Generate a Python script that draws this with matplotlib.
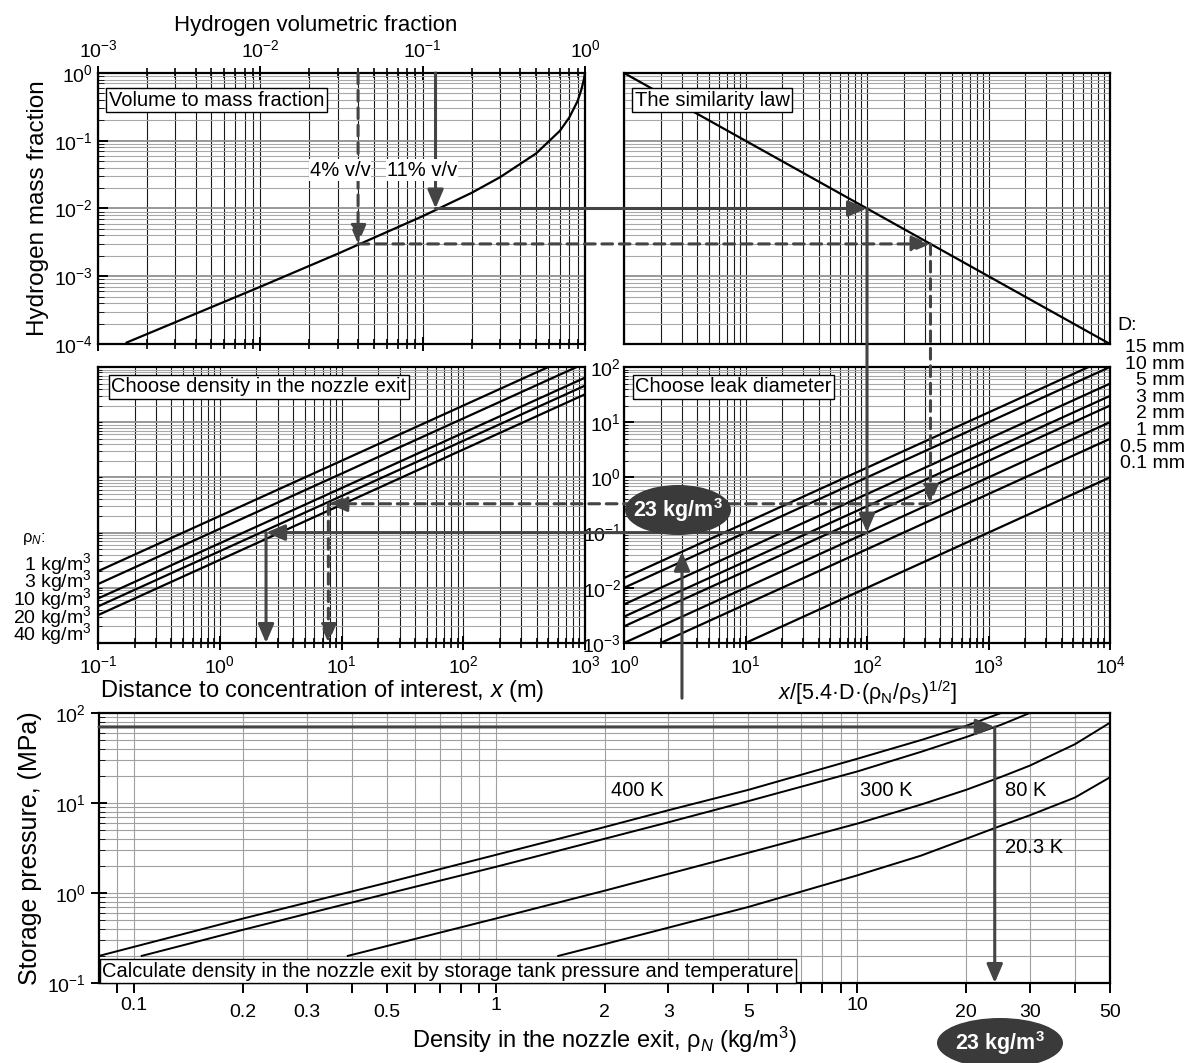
import matplotlib
matplotlib.use("Agg")
import matplotlib.pyplot as plt
import numpy as np
from matplotlib.patches import ConnectionPatch, Ellipse
from matplotlib.ticker import LogLocator, FixedLocator, FixedFormatter, NullFormatter

plt.rcParams['font.family'] = ['Liberation Sans', 'DejaVu Sans']
plt.rcParams['mathtext.fontset'] = 'custom'
plt.rcParams['mathtext.rm'] = 'Liberation Sans'
plt.rcParams['mathtext.it'] = 'Liberation Sans:italic'
plt.rcParams['mathtext.bf'] = 'Liberation Sans:bold'
plt.rcParams['font.size'] = 14

# --- volume -> mass fraction (top left)
vol_frac = [0.0015, 0.003, 0.01, 0.03, 0.1, 0.2, 0.3, 0.5, 0.7, 0.8, 0.9, 0.95, 0.98, 0.995, 1.0]
mass_frac = [1.05e-4, 2.1e-4, 7.0e-4, 2.15e-3, 7.7e-3, 0.017, 0.029, 0.065, 0.14, 0.22, 0.385, 0.57, 0.77, 0.93, 1.0]

# --- similarity law (top right)
sim_x = [1, 1e4]
sim_c = [1, 1e-4]

# --- leak diameters (middle right), value at x'=1 and x'=1e4
leak_labels = ['15 mm', '10 mm', '5 mm', '3 mm', '2 mm', '1 mm', '0.5 mm', '0.1 mm']
leak_y_start = [0.015, 0.01, 0.005, 0.003, 0.002, 0.001, 0.0005, 0.0001]
leak_y_end = [150, 100, 50, 30, 20, 10, 5, 1]

# --- nozzle density lines (middle left), value at x=0.1 m and x=1000 m
dens_labels = ['1 kg/m$^3$', '3 kg/m$^3$', '10 kg/m$^3$', '20 kg/m$^3$', '40 kg/m$^3$']
dens_y_start = [0.0200, 0.0117, 0.0064, 0.0046, 0.0032]
dens_y_end = [200, 117, 64, 46, 32]

# --- worked examples (solid: 11 % v/v, dashed: 4 % v/v)
route_solid = dict(vol=0.12, mass=0.01, xs=100, inter=0.1, dist=2.4)
route_dashed = dict(vol=0.04, mass=0.003, xs=333, inter=0.333, dist=7.8)

# --- isotherms (bottom)
rho_400 = [0.08, 0.2, 0.5, 1, 2, 3, 5, 10, 15, 20, 25]
p_400 = [0.20, 0.52, 1.3, 2.65, 5.4, 8.3, 14, 31, 50, 72, 100]
rho_300 = [0.105, 0.2, 0.5, 1, 2, 3, 5, 10, 15, 20, 25, 30]
p_300 = [0.20, 0.39, 0.98, 1.95, 4.0, 6.1, 10.5, 22.4, 37, 54, 74, 100]
rho_80 = [0.39, 1, 2, 5, 10, 15, 20, 25, 30, 40, 50]
p_80 = [0.2, 0.52, 1.06, 2.8, 5.9, 9.6, 14.0, 19.5, 26, 45, 78]
rho_20 = [1.49, 2, 5, 10, 15, 20, 25, 30, 40, 50]
p_20 = [0.2, 0.27, 0.7, 1.57, 2.6, 4.0, 5.6, 7.3, 11.5, 19.3]
iso_labels = ['400 K', '300 K', '80 K', '20.3 K']
iso_label_rho = [2.08, 10.2, 25.6, 25.6]
iso_label_p = [13.9, 13.9, 13.9, 3.2]
p_storage = 70
rho_pick = 24

W, H = 1191, 1063
fig = plt.figure(figsize=(W / 100, H / 100), dpi=100)


def box(l, t, r, b):
    return [l / W, 1 - b / H, (r - l) / W, (b - t) / H]


ax_tl = fig.add_axes(box(98, 73, 585, 344))
ax_tr = fig.add_axes(box(624, 73, 1110, 344))
ax_ml = fig.add_axes(box(98, 367, 585, 643))
ax_mr = fig.add_axes(box(624, 367, 1110, 643))
ax_b = fig.add_axes(box(99, 713, 1110, 983))


def log_grid(ax, vcol='#1a1a1a', hcol='#a8a8a8'):
    ax.set_xscale('log')
    ax.set_yscale('log')
    for a in (ax.xaxis, ax.yaxis):
        a.set_major_locator(LogLocator(base=10, numticks=20))
        a.set_minor_locator(LogLocator(base=10, subs=np.arange(2, 10), numticks=20))
        a.set_minor_formatter(NullFormatter())
    ax.grid(True, which='both', axis='x', color=vcol, lw=0.8)
    ax.grid(True, which='minor', axis='y', color=hcol, lw=0.8)
    ax.grid(True, which='major', axis='y', color='#909090', lw=1.3)
    ax.set_axisbelow(True)
    for s in ax.spines.values():
        s.set_linewidth(1.6)


for ax in (ax_tl, ax_tr, ax_ml, ax_mr):
    log_grid(ax)

boxprops = dict(boxstyle='square,pad=0.12', fc='white', ec='black', lw=1)
note_fs = 14.5

# top left: volume to mass fraction
ax_tl.plot(vol_frac, mass_frac, color='black', lw=1.6)
ax_tl.set_xlim(1e-3, 1)
ax_tl.set_ylim(1e-4, 1)
ax_tl.xaxis.set_label_position('top')
ax_tl.set_xlabel('Hydrogen volumetric fraction', fontsize=16)
ax_tl.xaxis.set_label_coords(0.448, 1.155)
ax_tl.set_ylabel('Hydrogen mass fraction', fontsize=17.5, labelpad=4)
ax_tl.tick_params(axis='x', which='both', top=True, bottom=True, labeltop=True,
                  labelbottom=False, direction='inout')
ax_tl.tick_params(axis='x', which='major', length=10, width=1.4)
ax_tl.tick_params(axis='x', which='minor', length=7, width=1.2)
ax_tl.tick_params(axis='y', which='both', direction='in', left=True, right=False)
ax_tl.tick_params(axis='y', which='major', length=7, width=1.4)
ax_tl.tick_params(axis='y', which='minor', length=4)
ax_tl.text(0.022, 0.935, 'Volume to mass fraction', transform=ax_tl.transAxes,
           va='top', ha='left', bbox=boxprops, fontsize=note_fs)

# top right: similarity law
ax_tr.plot(sim_x, sim_c, color='black', lw=1.6)
ax_tr.set_xlim(1, 1e4)
ax_tr.set_ylim(1e-4, 1)
ax_tr.tick_params(which='both', length=0, labelleft=False, labelbottom=False)
ax_tr.text(0.022, 0.935, 'The similarity law', transform=ax_tr.transAxes,
           va='top', ha='left', bbox=boxprops, fontsize=note_fs)

# middle left: nozzle density
for y0, y1 in zip(dens_y_start, dens_y_end):
    ax_ml.plot([0.1, 1000], [y0, y1], color='black', lw=1.6)
ax_ml.set_xlim(0.1, 1000)
ax_ml.set_ylim(1e-3, 1e2)
ax_ml.set_xlabel('Distance to concentration of interest, $x$ (m)', fontsize=17)
ax_ml.xaxis.set_label_coords(0.46, -0.128)
ax_ml.tick_params(axis='x', which='both', direction='inout')
ax_ml.tick_params(axis='x', which='major', length=10, width=1.4)
ax_ml.tick_params(axis='x', which='minor', length=7, width=1.2)
ax_ml.tick_params(axis='y', which='both', direction='in', labelleft=False, length=3)
ax_ml.text(0.027, 0.962, 'Choose density in the nozzle exit', transform=ax_ml.transAxes,
           va='top', ha='left', bbox=boxprops, fontsize=note_fs)

# middle right: leak diameter
for y0, y1 in zip(leak_y_start, leak_y_end):
    ax_mr.plot([1, 1e4], [y0, y1], color='black', lw=1.6)
ax_mr.set_xlim(1, 1e4)
ax_mr.set_ylim(1e-3, 1e2)
ax_mr.set_xlabel(r'$x$/[5.4·D·(ρ$_{\rm N}$/ρ$_{\rm S}$)$^{1/2}$]', fontsize=15.5, labelpad=1)
ax_mr.tick_params(axis='x', which='both', direction='inout')
ax_mr.tick_params(axis='x', which='major', length=10, width=1.4)
ax_mr.tick_params(axis='x', which='minor', length=7, width=1.2)
ax_mr.tick_params(axis='y', which='both', direction='in', pad=2)
ax_mr.tick_params(axis='y', which='major', length=7, width=1.4)
ax_mr.tick_params(axis='y', which='minor', length=3)
ax_mr.text(0.023, 0.962, 'Choose leak diameter', transform=ax_mr.transAxes,
           va='top', ha='left', bbox=boxprops, fontsize=note_fs)

# bottom: isotherms
ax_b.set_xscale('log')
ax_b.set_yscale('log')
for rho, p in [(rho_400, p_400), (rho_300, p_300), (rho_80, p_80), (rho_20, p_20)]:
    ax_b.plot(rho, p, color='black', lw=1.4)
for lab, r, p in zip(iso_labels, iso_label_rho, iso_label_p):
    ax_b.text(r, p, lab, ha='left', va='center', fontsize=note_fs)
ax_b.set_xlim(0.08, 50)
ax_b.set_ylim(0.1, 100)
maj_x = [0.1, 1, 10]
min_x = [0.09, 0.2, 0.3, 0.4, 0.5, 0.6, 0.7, 0.8, 0.9, 2, 3, 4, 5, 6, 7, 8, 9, 20, 30, 40, 50]
min_lab = ['' if v not in (0.2, 0.3, 0.5, 2, 3, 5, 20, 30, 50) else f'{v:g}' for v in min_x]
ax_b.xaxis.set_major_locator(FixedLocator(maj_x))
ax_b.xaxis.set_major_formatter(FixedFormatter(['0.1', '1', '10']))
ax_b.xaxis.set_minor_locator(FixedLocator(min_x))
ax_b.xaxis.set_minor_formatter(FixedFormatter(min_lab))
ax_b.yaxis.set_major_locator(LogLocator(base=10, numticks=10))
ax_b.yaxis.set_minor_locator(LogLocator(base=10, subs=np.arange(2, 10), numticks=10))
ax_b.yaxis.set_minor_formatter(NullFormatter())
ax_b.tick_params(axis='x', which='major', direction='out', length=7, width=1.4, pad=3)
ax_b.tick_params(axis='x', which='minor', direction='out', length=7, width=1.4, pad=8)
ax_b.tick_params(axis='y', which='major', direction='inout', length=12, width=1.4)
ax_b.tick_params(axis='y', which='minor', direction='in', length=4)
ax_b.grid(True, which='both', color='#a0a0a0', lw=0.8)
ax_b.set_axisbelow(True)
for s in ax_b.spines.values():
    s.set_linewidth(1.6)
ax_b.set_xlabel('Density in the nozzle exit, ρ$_{N}$ (kg/m$^3$)', fontsize=17, labelpad=3)
ax_b.set_ylabel('Storage pressure, (MPa)', fontsize=18, labelpad=4)
ax_b.text(0.003, 0.008, 'Calculate density in the nozzle exit by storage tank pressure and temperature',
          transform=ax_b.transAxes, va='bottom', ha='left', bbox=boxprops, fontsize=note_fs)

# worked-example arrows
acol = '#444444'
head = '-|>,head_length=0.75,head_width=0.32'


def link(axA, xyA, axB, xyB, dashed=False, arrow=True):
    con = ConnectionPatch(xyA=xyA, coordsA=axA.transData, xyB=xyB, coordsB=axB.transData,
                          arrowstyle=head if arrow else '-', mutation_scale=15,
                          shrinkA=0, shrinkB=0, color=acol, lw=2.2,
                          linestyle=(0, (3.5, 2.2)) if dashed else '-', zorder=3)
    fig.add_artist(con)


for r, d in [(route_solid, False), (route_dashed, True)]:
    link(ax_tl, (r['vol'], 1), ax_tl, (r['vol'], r['mass']), d)
    link(ax_tl, (r['vol'], r['mass']), ax_tr, (r['xs'], r['mass']), d)
    link(ax_tr, (r['xs'], r['mass']), ax_mr, (r['xs'], r['inter']), d)
    link(ax_mr, (r['xs'], r['inter']), ax_ml, (r['dist'], r['inter']), d)
    link(ax_ml, (r['dist'], r['inter']), ax_ml, (r['dist'], 1e-3), d)

link(ax_b, (0.08, p_storage), ax_b, (rho_pick, p_storage))
link(ax_b, (rho_pick, p_storage), ax_b, (rho_pick, 0.1))
link(ax_mr, (3.0, 1e-4), ax_mr, (3.0, 0.045))

# labels on the volume arrows
for txt, xv in [('4% v/v', 0.031), ('11% v/v', 0.099)]:
    fig.text(xv, 0.037, txt, transform=ax_tl.transData, ha='center', va='center',
             fontsize=note_fs, bbox=dict(boxstyle='square,pad=0.05', fc='white', ec='none'),
             zorder=5)

# result ellipses
for cx, cy, ew, eh in [(678, 510, 106, 50), (1000, 1043, 126, 50)]:
    fig.add_artist(Ellipse((cx / W, 1 - cy / H), ew / W, eh / H, transform=fig.transFigure,
                           fc='#3a3a3a', ec='none', zorder=8))
    fig.text(cx / W, 1 - cy / H, r'23 kg/m$^{\mathbf{3}}$', color='white', fontsize=15.5,
             fontweight='bold', ha='center', va='center', zorder=9)

# legends written beside the panels
fig.text(1117 / W, 1 - 325 / H, 'D:', ha='left', va='center', fontsize=14)
fig.text(1185 / W, 1 - 339 / H, '\n'.join(leak_labels), ha='right', va='top',
         multialignment='right', fontsize=14, linespacing=0.97)
fig.text(22 / W, 1 - 539 / H, 'ρ$_{N}$:', ha='left', va='center', fontsize=12)
fig.text(92 / W, 1 - 551 / H, '\n'.join(dens_labels), ha='right', va='top',
         multialignment='right', fontsize=14, linespacing=0.56)

fig.savefig('out.png', dpi=100)
